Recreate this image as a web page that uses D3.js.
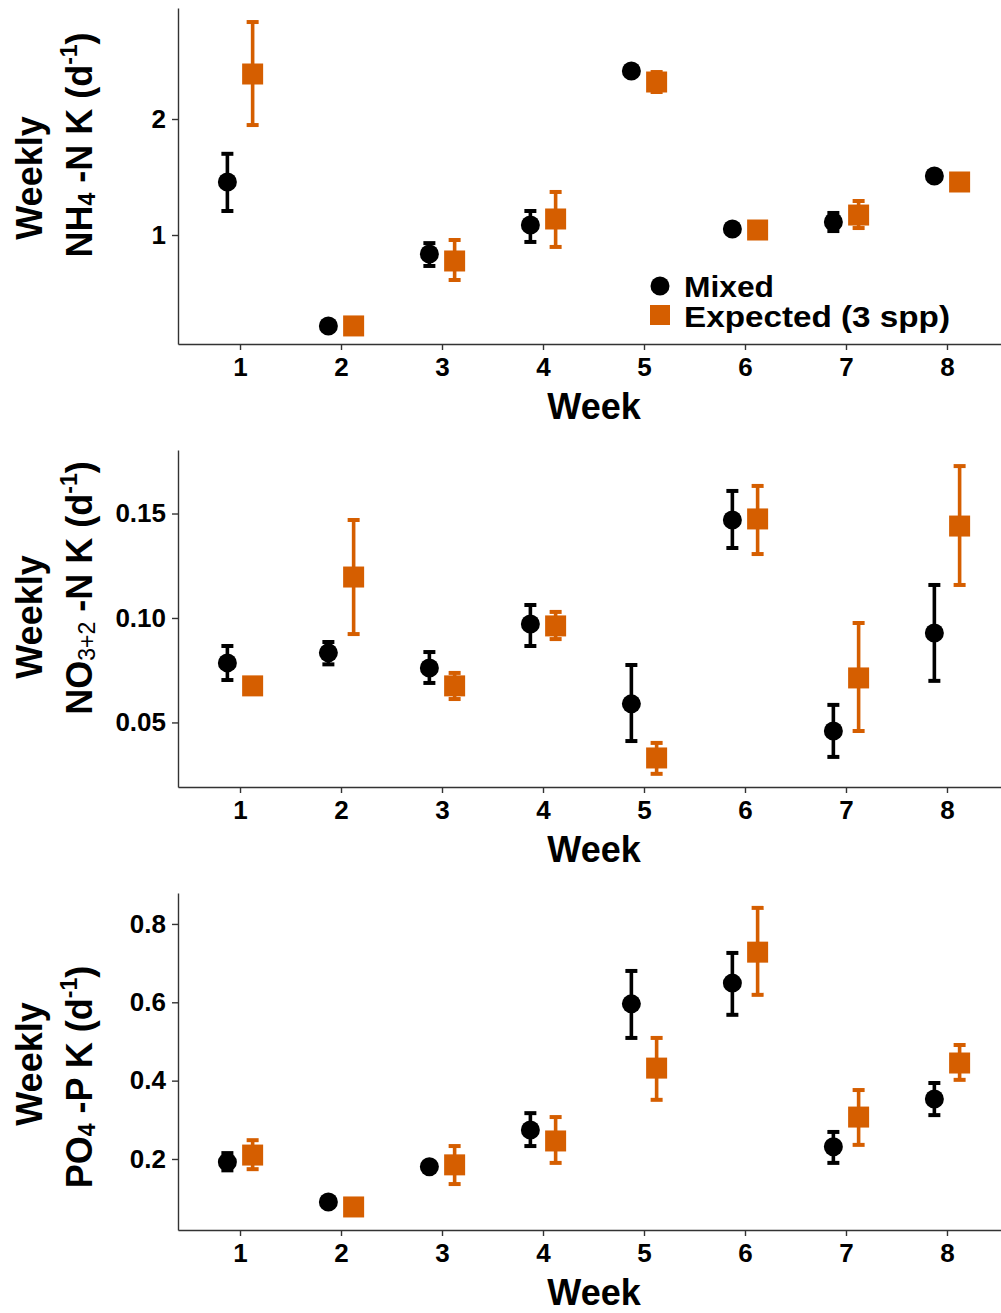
<!DOCTYPE html>
<html>
<head>
<meta charset="utf-8">
<script src="https://d3js.org/d3.v7.min.js"></script>
<style>
  body { margin: 0; background: #fff; }
  svg text { font-family: "Liberation Sans", Arial, sans-serif; font-weight: bold; }
</style>
</head>
<body>
<div id="chart"></div>
<script>
// weeks and series
const weeks = [1, 2, 3, 4, 5, 6, 7, 8];
const seriesNames = ["Mixed", "Expected (3 spp)"];

// NH4-N
const nh4MixedMean = [1.457, 0.216, 0.836, 1.086, 2.414, 1.052, 1.112, 1.509];
const nh4MixedLo   = [1.207, 0.200, 0.733, 0.940, 2.395, 1.035, 1.034, 1.490];
const nh4MixedHi   = [1.700, 0.232, 0.930, 1.207, 2.433, 1.069, 1.190, 1.528];
const nh4ExpMean   = [2.388, 0.216, 0.776, 1.138, 2.319, 1.043, 1.172, 1.457];
const nh4ExpLo     = [1.948, 0.200, 0.612, 0.897, 2.233, 1.030, 1.060, 1.440];
const nh4ExpHi     = [2.836, 0.232, 0.957, 1.371, 2.405, 1.056, 1.293, 1.474];

// NO3+2-N
const no3MixedMean = [0.0785, 0.0833, 0.0761, 0.0971, 0.0589, 0.1469, 0.0459, 0.0928];
const no3MixedLo   = [0.0703, 0.0778, 0.0689, 0.0866, 0.0411, 0.1335, 0.0335, 0.0699];
const no3MixedHi   = [0.0866, 0.0885, 0.0837, 0.1062, 0.0775, 0.1608, 0.0584, 0.1158];
const no3ExpMean   = [0.0675, 0.1196, 0.0675, 0.0962, 0.0330, 0.1474, 0.0713, 0.1440];
const no3ExpLo     = [0.0645, 0.0923, 0.0612, 0.0899, 0.0254, 0.1306, 0.0459, 0.1158];
const no3ExpHi     = [0.0705, 0.1469, 0.0737, 0.1029, 0.0402, 0.1632, 0.0976, 0.1727];

// PO4-P
const po4MixedMean = [0.192, 0.090, 0.180, 0.274, 0.596, 0.649, 0.231, 0.353];
const po4MixedLo   = [0.171, 0.080, 0.170, 0.233, 0.509, 0.568, 0.190, 0.312];
const po4MixedHi   = [0.215, 0.100, 0.190, 0.317, 0.680, 0.726, 0.269, 0.394];
const po4ExpMean   = [0.210, 0.0775, 0.185, 0.246, 0.432, 0.728, 0.307, 0.445];
const po4ExpLo     = [0.174, 0.070, 0.136, 0.190, 0.351, 0.619, 0.236, 0.402];
const po4ExpHi     = [0.248, 0.085, 0.233, 0.307, 0.509, 0.841, 0.376, 0.491];

const nh4Ticks = [1, 2];
const no3Ticks = [0.05, 0.10, 0.15];
const po4Ticks = [0.2, 0.4, 0.6, 0.8];

const orange = "#D55E00";
const dodge = 0.125;

const svg = d3.select("#chart").append("svg")
    .attr("width", 1001)
    .attr("height", 1313);

const x = d3.scaleLinear().domain([0.386, 8.614]).range([178, 1009]);

const panels = [
  { top: 8, bottom: 344, domain: [0.0603, 2.957], ticks: nh4Ticks, fmt: d3.format("d"),
    mixed: [nh4MixedMean, nh4MixedLo, nh4MixedHi], exp: [nh4ExpMean, nh4ExpLo, nh4ExpHi],
    chem: ["NH", "4", " -N K (d"], subBold: true, weeklyY: 178, chemY: 145, legend: true },
  { top: 450, bottom: 787, domain: [0.0191, 0.1804], ticks: no3Ticks, fmt: d3.format(".2f"),
    mixed: [no3MixedMean, no3MixedLo, no3MixedHi], exp: [no3ExpMean, no3ExpLo, no3ExpHi],
    chem: ["NO", "3+2", " -N K (d"], subBold: false, weeklyY: 617, chemY: 588 },
  { top: 893, bottom: 1230, domain: [0.0187, 0.879], ticks: po4Ticks, fmt: d3.format(".1f"),
    mixed: [po4MixedMean, po4MixedLo, po4MixedHi], exp: [po4ExpMean, po4ExpLo, po4ExpHi],
    chem: ["PO", "4", " -P K (d"], subBold: true, weeklyY: 1064, chemY: 1077 }
];

panels.forEach(p => {
  const y = d3.scaleLinear().domain(p.domain).range([p.bottom, p.top]);
  const g = svg.append("g");

  // axes
  const xAxis = g.append("g")
      .attr("transform", `translate(0,${p.bottom})`)
      .call(d3.axisBottom(x).tickValues(weeks).tickSize(6).tickPadding(8).tickSizeOuter(0));
  const yAxis = g.append("g")
      .attr("transform", `translate(178,0)`)
      .call(d3.axisLeft(y).tickValues(p.ticks).tickFormat(p.fmt).tickSize(6).tickPadding(6).tickSizeOuter(0));
  [xAxis, yAxis].forEach(a => {
    a.select(".domain").attr("stroke", "#333").attr("stroke-width", 1.4);
    a.selectAll(".tick line").attr("stroke", "#333").attr("stroke-width", 1.4);
    a.selectAll(".tick text").attr("fill", "#000").style("font-size", "26px");
  });

  // x title
  g.append("text")
      .attr("x", 594).attr("y", p.bottom + 75)
      .attr("text-anchor", "middle")
      .style("font-size", "36px")
      .text("Week");

  // y title, two lines
  g.append("text")
      .attr("transform", `translate(42,${p.weeklyY}) rotate(-90)`)
      .attr("text-anchor", "middle")
      .style("font-size", "36px")
      .text("Weekly");
  const t = g.append("text")
      .attr("transform", `translate(92,${p.chemY}) rotate(-90)`)
      .attr("text-anchor", "middle")
      .style("font-size", "36px");
  t.append("tspan").text(p.chem[0]);
  t.append("tspan").attr("dy", 3).style("font-size", "23px")
      .style("font-weight", p.subBold ? "bold" : "normal").text(p.chem[1]);
  t.append("tspan").attr("dy", -3).text(p.chem[2]);
  t.append("tspan").attr("dy", -15).style("font-size", "23px").text("-1");
  t.append("tspan").attr("dy", 15).text(")");

  // error bars + points
  const series = [
    { vals: p.mixed, off: -dodge, color: "#000", shape: "circle" },
    { vals: p.exp, off: dodge, color: orange, shape: "square" }
  ];
  series.forEach(s => {
    const [mean, lo, hi] = s.vals;
    const sg = g.append("g");
    weeks.forEach((w, i) => {
      const cx = x(w + s.off);
      sg.append("line")
          .attr("x1", cx).attr("x2", cx)
          .attr("y1", y(lo[i])).attr("y2", y(hi[i]))
          .attr("stroke", s.color).attr("stroke-width", 3.6);
      [lo[i], hi[i]].forEach(v => {
        sg.append("line")
            .attr("x1", cx - 6).attr("x2", cx + 6)
            .attr("y1", y(v)).attr("y2", y(v))
            .attr("stroke", s.color).attr("stroke-width", 4);
      });
    });
    if (s.shape === "circle") {
      sg.selectAll("circle").data(mean).join("circle")
          .attr("cx", (d, i) => x(weeks[i] + s.off))
          .attr("cy", d => y(d))
          .attr("r", 9.5)
          .attr("fill", s.color);
    } else {
      sg.selectAll("rect").data(mean).join("rect")
          .attr("x", (d, i) => x(weeks[i] + s.off) - 10.5)
          .attr("y", d => y(d) - 10.5)
          .attr("width", 21).attr("height", 21)
          .attr("fill", s.color);
    }
  });

  if (p.legend) {
    const lg = g.append("g");
    lg.append("circle").attr("cx", 660).attr("cy", 286).attr("r", 9.5).attr("fill", "#000");
    lg.append("rect").attr("x", 650).attr("y", 305).attr("width", 20).attr("height", 20).attr("fill", orange);
    lg.append("text").attr("x", 684).attr("y", 297).style("font-size", "29px")
        .attr("textLength", 90).attr("lengthAdjust", "spacingAndGlyphs").text(seriesNames[0]);
    lg.append("text").attr("x", 684).attr("y", 327).style("font-size", "29px")
        .attr("textLength", 266).attr("lengthAdjust", "spacingAndGlyphs").text(seriesNames[1]);
  }
});
</script>
</body>
</html>
